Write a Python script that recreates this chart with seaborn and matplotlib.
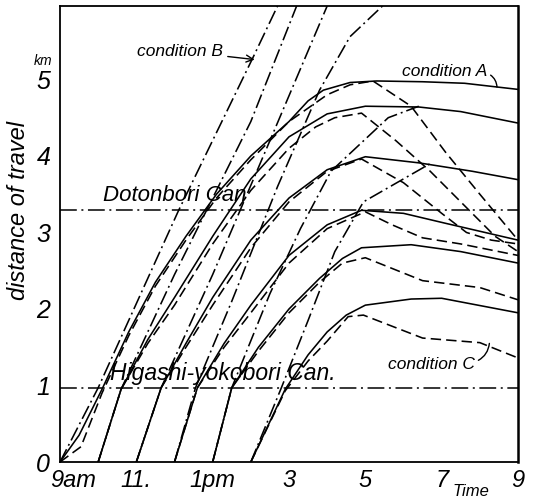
import matplotlib
matplotlib.use("Agg")
import matplotlib.pyplot as plt
import matplotlib.transforms as mtrans
import seaborn as sns
import pandas as pd

# ---------------- data (hours, km) ----------------
# condition A (solid)
a09_t = [9, 9.5, 10.1, 10.8, 11.5, 12.3, 13.1, 14.0, 15.0, 15.5, 15.9, 16.6, 17.3, 18.5, 19.6, 21]
a09_d = [0, 0.35, 0.95, 1.7, 2.35, 2.95, 3.5, 4.0, 4.45, 4.72, 4.86, 4.96, 4.98, 4.97, 4.95, 4.87]
a10_t = [10, 10.6, 11.3, 12, 13, 14, 15, 16, 17, 18.4, 19.5, 21]
a10_d = [0, 0.95, 1.6, 2.15, 2.95, 3.7, 4.25, 4.55, 4.65, 4.64, 4.58, 4.43]
a11_t = [11, 11.65, 12.3, 13, 14, 15, 16, 17, 18.4, 19.8, 21]
a11_d = [0, 0.97, 1.55, 2.15, 2.9, 3.45, 3.82, 3.99, 3.91, 3.8, 3.69]
a12_t = [12, 12.6, 13.3, 14, 15, 16, 16.9, 18, 19.1, 21]
a12_d = [0, 0.97, 1.55, 2.05, 2.7, 3.1, 3.29, 3.25, 3.12, 2.9]
a13_t = [13, 13.5, 14.2, 15, 15.8, 16.4, 16.9, 18.2, 19.5, 21]
a13_d = [0, 0.97, 1.5, 2.0, 2.4, 2.66, 2.8, 2.84, 2.75, 2.6]
a14_t = [14, 14.9, 15.5, 16.0, 16.5, 17.0, 18.2, 19.0, 21]
a14_d = [0, 0.95, 1.4, 1.7, 1.92, 2.05, 2.13, 2.14, 1.95]

# condition B (dash-dot)
b09_t = [9, 10, 12.1, 14.05, 14.7]
b09_d = [0, 0.97, 3.28, 5.28, 5.96]
b10_t = [10, 10.6, 12, 14, 15.2]
b10_d = [0, 0.95, 2.45, 4.45, 5.96]
b11_t = [11, 11.65, 13, 14.5, 16.0]
b11_d = [0, 0.97, 2.45, 4.2, 5.96]
b12_t = [12, 12.55, 13.5, 14.7, 15.8, 16.6, 17.45]
b12_d = [0, 0.97, 2.1, 3.6, 4.86, 5.56, 5.96]
b13_t = [13, 13.5, 14.5, 15.3, 16.1, 17.6, 18.4]
b13_d = [0, 0.97, 2.2, 3.05, 3.8, 4.5, 4.65]
b14_t = [14, 14.8, 15.5, 16.2, 16.95, 18.7]
b14_d = [0, 0.97, 1.85, 2.75, 3.4, 3.9]

# condition C (dashed)
c09_t = [9, 9.55, 10.1, 10.8, 11.5, 12.3, 13.1, 14.0, 15.0, 16.0, 16.6, 17.2, 18.2, 19.1, 20.0, 21]
c09_d = [0, 0.2, 0.9, 1.65, 2.3, 2.9, 3.45, 3.95, 4.45, 4.8, 4.93, 4.98, 4.65, 4.05, 3.5, 2.9]
c10_t = [10, 10.6, 11.3, 12, 13, 14, 15, 15.7, 16.2, 16.9, 17.8, 18.7, 19.6, 20.4, 21]
c10_d = [0, 0.95, 1.55, 2.05, 2.85, 3.55, 4.1, 4.38, 4.5, 4.56, 4.2, 3.8, 3.35, 2.95, 2.75]
c11_t = [11, 11.65, 12.3, 13, 14, 15, 16, 16.9, 18.0, 19.0, 19.65, 20.3, 21]
c11_d = [0, 0.97, 1.5, 2.05, 2.8, 3.4, 3.8, 3.96, 3.65, 3.25, 3.0, 2.9, 2.85]
c12_t = [12, 12.6, 13.3, 14, 15, 16, 17.0, 17.7, 18.5, 19.5, 21]
c12_d = [0, 0.97, 1.5, 1.95, 2.6, 3.05, 3.27, 3.1, 2.93, 2.85, 2.7]
c13_t = [13, 13.5, 14.2, 15, 15.8, 16.4, 17.0, 18.5, 20, 21]
c13_d = [0, 0.97, 1.45, 1.95, 2.35, 2.6, 2.67, 2.37, 2.28, 2.12]
c14_t = [14, 14.9, 15.5, 16, 16.55, 16.95, 18.5, 20, 21]
c14_d = [0, 0.93, 1.32, 1.58, 1.9, 1.92, 1.62, 1.56, 1.36]

canal_names = ["Dotonbori Can", "Higashi-yokobori Can."]
canal_km = [3.30, 0.97]

x_ticks = list(range(9, 22))
x_labels = {9: "9am", 11: "11.", 13: "1pm", 15: "3", 17: "5", 19: "7", 21: "9"}
y_ticks = [0, 1, 2, 3, 4, 5]

curves = [
    ("A", 9, a09_t, a09_d), ("A", 10, a10_t, a10_d), ("A", 11, a11_t, a11_d),
    ("A", 12, a12_t, a12_d), ("A", 13, a13_t, a13_d), ("A", 14, a14_t, a14_d),
    ("B", 9, b09_t, b09_d), ("B", 10, b10_t, b10_d), ("B", 11, b11_t, b11_d),
    ("B", 12, b12_t, b12_d), ("B", 13, b13_t, b13_d), ("B", 14, b14_t, b14_d),
    ("C", 9, c09_t, c09_d), ("C", 10, c10_t, c10_d), ("C", 11, c11_t, c11_d),
    ("C", 12, c12_t, c12_d), ("C", 13, c13_t, c13_d), ("C", 14, c14_t, c14_d),
]
rows = []
for cond, start, ts, ds in curves:
    for t, d in zip(ts, ds):
        rows.append({"time": t, "distance": d, "condition": cond,
                     "run": f"{cond}{start}"})
df = pd.DataFrame(rows)

# ---------------- figure ----------------
sns.set_theme(style="white")
plt.rcParams["font.family"] = ["Liberation Sans", "DejaVu Sans"]
fig = plt.figure(figsize=(5.33, 5.04), dpi=100)
ax = fig.add_axes([60 / 533, 1 - 462 / 504, 458 / 533, 456 / 504])

sns.lineplot(data=df, x="time", y="distance", style="condition", units="run",
             estimator=None, sort=False, color="black", linewidth=1.15,
             dashes={"A": "", "B": (9, 2.5, 1.2, 2.5), "C": (6.5, 3.2)},
             legend=False, ax=ax)

for km in canal_km:
    ax.hlines(km, 9, 21, color="black", linewidth=1.1,
              linestyles=[(0, (11, 3, 1.3, 3))])

ax.set_xlim(9, 21)
ax.set_ylim(0, 5.96)
ax.set_xlabel("")
ax.set_ylabel("")

ax.set_xticks(x_ticks)
ax.set_xticklabels([x_labels.get(t, "") for t in x_ticks],
                   fontsize=17, style="italic")
ax.set_yticks(y_ticks)
ax.set_yticklabels([str(v) for v in y_ticks], fontsize=18, style="italic")
ax.tick_params(axis="both", direction="in", length=5, width=1.0,
               color="black", labelcolor="black")
ax.tick_params(axis="x", pad=5)
ax.tick_params(axis="y", pad=7)
lab0 = ax.get_xticklabels()[0]
lab0.set_horizontalalignment("left")
lab0.set_transform(lab0.get_transform() +
                   mtrans.ScaledTranslation(-10 / 100, 0, fig.dpi_scale_trans))

for s in ax.spines.values():
    s.set_visible(True)
    s.set_color("black")
    s.set_linewidth(1.3)
ax.spines["right"].set_linewidth(1.8)

txt = dict(color="black", style="italic")
ax.text(10.13, 3.34, canal_names[0], fontsize=16, va="bottom", ha="left", **txt)
ax.text(10.31, 1.0, canal_names[1], fontsize=16.5, va="bottom", ha="left", **txt)

ax.annotate("condition B", xy=(14.1, 5.26), xytext=(11.02, 5.37),
            fontsize=12.5, va="center", ha="left",
            arrowprops=dict(arrowstyle="->", color="black", lw=1.0,
                            shrinkA=1, shrinkB=0), **txt)
ax.annotate("condition A", xy=(20.45, 4.9), xytext=(17.96, 5.1),
            fontsize=12.5, va="center", ha="left",
            arrowprops=dict(arrowstyle="-", color="black", lw=1.0,
                            connectionstyle="arc3,rad=-0.3",
                            shrinkA=0, shrinkB=0,
                            relpos=(1.0, 0.4)), **txt)
ax.annotate("condition C", xy=(20.25, 1.55), xytext=(17.6, 1.27),
            fontsize=12.5, va="center", ha="left",
            arrowprops=dict(arrowstyle="-", color="black", lw=1.0,
                            connectionstyle="arc3,rad=0.3",
                            shrinkA=0, shrinkB=0,
                            relpos=(1.0, 0.7)), **txt)

ax.text(8.55, 5.24, "km", fontsize=10, ha="center", va="center",
        clip_on=False, **txt)
fig.text(19 / 533, 1 - 210 / 504, "distance of travel", rotation=90,
         fontsize=17, ha="center", va="center", **txt)
fig.text(471 / 533, 1 - 492 / 504, "Time", fontsize=12, ha="center",
         va="center", **txt)

fig.savefig("out.png", dpi=100, facecolor="white")
